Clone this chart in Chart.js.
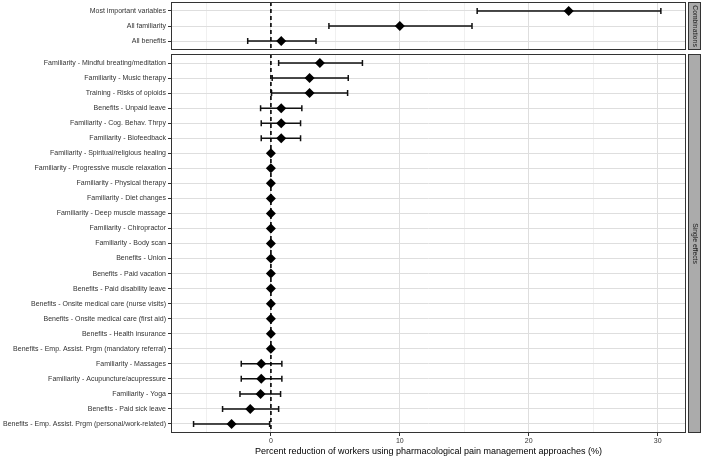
<!DOCTYPE html>
<html><head><meta charset="utf-8">
<script src="https://cdn.jsdelivr.net/npm/chart.js@4"></script>
<style>
html,body{margin:0;padding:0;background:#fff;}
#wrap{position:relative;width:702px;height:456px;overflow:hidden;}
canvas{position:absolute;left:0;}
</style></head><body>
<div id="wrap">
<canvas id="cTop" width="702" height="52" style="top:0;width:702px;height:52px"></canvas>
<canvas id="cBot" width="702" height="404" style="top:52px;width:702px;height:404px"></canvas>
</div>
<script>
// ---- Data ----
const combLabels = ['Most important variables', 'All familiarity', 'All benefits'];
const combEst = [23.1, 10.0, 0.8];
const combLo  = [16.0, 4.5, -1.8];
const combHi  = [30.25, 15.6, 3.5];

const singleLabels = [
  'Familiarity - Mindful breating/meditation',
  'Familiarity - Music therapy',
  'Training - Risks of opioids',
  'Benefits - Unpaid leave',
  'Familiarity - Cog. Behav. Thrpy',
  'Familiarity - Biofeedback',
  'Familiarity - Spiritual/religious healing',
  'Familiarity - Progressive muscle relaxation',
  'Familiarity - Physical therapy',
  'Familiarity - Diet changes',
  'Familiarity - Deep muscle massage',
  'Familiarity - Chiropractor',
  'Familiarity - Body scan',
  'Benefits - Union',
  'Benefits - Paid vacation',
  'Benefits - Paid disability leave',
  'Benefits - Onsite medical care (nurse visits)',
  'Benefits - Onsite medical care (first aid)',
  'Benefits - Health insurance',
  'Benefits - Emp. Assist. Prgm (mandatory referral)',
  'Familiarity - Massages',
  'Familiarity - Acupuncture/acupressure',
  'Familiarity - Yoga',
  'Benefits - Paid sick leave',
  'Benefits - Emp. Assist. Prgm (personal/work-related)'
];
const singleEst = [3.8, 3.0, 3.0, 0.8, 0.8, 0.8, 0, 0, 0, 0, 0, 0, 0, 0, 0, 0, 0, 0, 0, 0, -0.75, -0.75, -0.8, -1.6, -3.05];
const singleLo  = [0.6, 0.1, 0.05, -0.8, -0.75, -0.75, null, null, null, null, null, null, null, null, null, null, null, null, null, null, -2.3, -2.3, -2.4, -3.75, -6.0];
const singleHi  = [7.1, 6.0, 5.95, 2.4, 2.3, 2.3, null, null, null, null, null, null, null, null, null, null, null, null, null, null, 0.85, 0.85, 0.75, 0.6, -0.1];

const xTicks = [-5, 0, 5, 10, 15, 20, 25, 30];
const xMajorTicks = [0, 10, 20, 30];
const xTitle = 'Percent reduction of workers using pharmacological pain management approaches (%)';
const stripTop = 'Combinations';
const stripBot = 'Single effects';

// ---- Styles ----
const FONT = "'Liberation Sans', Arial, Helvetica, sans-serif";
const X_MIN = -7.75, X_MAX = 32.2;
const LEFT_W = 171;

function facetPlugin(lo, hi, strip) {
  return {
    id: 'facet',
    beforeDatasetsDraw(chart) {
      const {ctx, chartArea: a, scales: {x, y}} = chart;
      ctx.save();
      ctx.strokeStyle = '#111';
      ctx.lineWidth = 1.5;
      for (let i = 0; i < lo.length; i++) {
        if (lo[i] == null || hi[i] == null) continue;
        const py = y.getPixelForValue(i);
        const x1 = x.getPixelForValue(lo[i]);
        const x2 = x.getPixelForValue(hi[i]);
        ctx.beginPath();
        ctx.moveTo(x1, py); ctx.lineTo(x2, py);
        ctx.moveTo(x1, py - 3); ctx.lineTo(x1, py + 3);
        ctx.moveTo(x2, py - 3); ctx.lineTo(x2, py + 3);
        ctx.stroke();
      }
      const x0 = x.getPixelForValue(0);
      ctx.strokeStyle = '#000';
      ctx.lineWidth = 1.6;
      ctx.setLineDash([4, 3]);
      ctx.beginPath();
      ctx.moveTo(x0, a.top); ctx.lineTo(x0, a.bottom);
      ctx.stroke();
      ctx.restore();
    },
    afterDraw(chart) {
      const {ctx, chartArea: a} = chart;
      ctx.save();
      ctx.strokeStyle = '#333';
      ctx.lineWidth = 1;
      ctx.strokeRect(a.left + 0.5, a.top + 0.5, a.right - a.left - 1, a.bottom - a.top - 1);
      const sx = a.right + 2, sw = 13;
      ctx.fillStyle = '#ababab';
      ctx.fillRect(sx, a.top, sw, a.bottom - a.top);
      ctx.strokeRect(sx + 0.5, a.top + 0.5, sw - 1, a.bottom - a.top - 1);
      ctx.translate(sx + sw / 2, (a.top + a.bottom) / 2);
      ctx.rotate(Math.PI / 2);
      ctx.fillStyle = '#1a1a1a';
      ctx.font = '6.8px ' + FONT;
      ctx.textAlign = 'center';
      ctx.textBaseline = 'middle';
      ctx.fillText(strip, 0, 0);
      ctx.restore();
    }
  };
}

function makeChart(id, labels, est, lo, hi, strip, showX) {
  const n = labels.length;
  return new Chart(document.getElementById(id), {
    type: 'scatter',
    data: {
      datasets: [{
        data: est.map((v, i) => ({x: v, y: i})),
        pointStyle: 'rectRot',
        pointRadius: 5,
        pointHoverRadius: 5,
        backgroundColor: '#000',
        borderColor: '#000',
        borderWidth: 0
      }]
    },
    options: {
      responsive: false,
      animation: false,
      devicePixelRatio: 1,
      layout: {autoPadding: false, padding: {top: 2, bottom: showX ? 0 : 2, left: 0, right: 16}},
      plugins: {legend: {display: false}, tooltip: {enabled: false}},
      scales: {
        x: {
          type: 'linear',
          min: X_MIN, max: X_MAX,
          afterBuildTicks: s => { s.ticks = xTicks.map(v => ({value: v})); },
          afterFit: s => { s.height = showX ? 23 : 0; s.paddingLeft = 0; s.paddingRight = 0; },
          border: {display: false},
          grid: {
            color: c => xMajorTicks.includes(c.tick.value) ? '#dedede' : '#ececec',
            lineWidth: c => xMajorTicks.includes(c.tick.value) ? 1 : 0.8,
            tickColor: c => xMajorTicks.includes(c.tick.value) ? '#333' : 'rgba(0,0,0,0)',
            drawTicks: showX,
            tickLength: 3
          },
          ticks: {
            display: showX,
            padding: 1,
            autoSkip: false,
            maxRotation: 0,
            color: '#333',
            font: {family: FONT, size: 7},
            callback: v => xMajorTicks.includes(v) ? String(v) : ''
          },
          title: {
            display: showX,
            text: xTitle,
            color: '#000',
            padding: {top: 0, bottom: -1},
            font: {family: FONT, size: 9}
          }
        },
        y: {
          type: 'linear',
          reverse: true,
          min: -0.6, max: n - 1 + 0.6,
          afterBuildTicks: s => { s.ticks = labels.map((_, i) => ({value: i})); },
          afterFit: s => { s.width = LEFT_W; s.paddingTop = 0; s.paddingBottom = 0; },
          border: {display: false},
          grid: {color: '#dedede', lineWidth: 1, tickColor: '#333', tickLength: 3},
          ticks: {
            autoSkip: false,
            padding: 2,
            color: '#333',
            font: {family: FONT, size: 7},
            callback: v => labels[v]
          }
        }
      }
    },
    plugins: [facetPlugin(lo, hi, strip)]
  });
}

makeChart('cTop', combLabels, combEst, combLo, combHi, stripTop, false);
makeChart('cBot', singleLabels, singleEst, singleLo, singleHi, stripBot, true);
</script>
</body></html>
